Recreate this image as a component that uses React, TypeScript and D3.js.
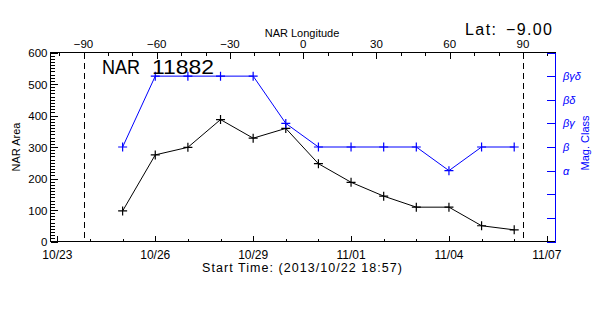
import { useEffect, useRef } from 'react';
import * as d3 from 'd3';

// daily samples of region NOAA 11882
const obsDates = [
  '2013-10-25', '2013-10-26', '2013-10-27', '2013-10-28', '2013-10-29', '2013-10-30', '2013-10-31',
  '2013-11-01', '2013-11-02', '2013-11-03', '2013-11-04', '2013-11-05', '2013-11-06',
];
const narArea = [97, 275, 299, 387, 328, 359, 247, 188, 144, 109, 109, 50, 37];
const magClass = ['β', 'βγδ', 'βγδ', 'βγδ', 'βγδ', 'βγ', 'β', 'β', 'β', 'β', 'α', 'β', 'β'];

const classLabels = ['α', 'β', 'βγ', 'βδ', 'βγδ'];
const areaTicks = [0, 100, 200, 300, 400, 500, 600];
const dateTicks = ['2013-10-23', '2013-10-26', '2013-10-29', '2013-11-01', '2013-11-04', '2013-11-07'];
const lonTicks = [-90, -60, -30, 0, 30, 60, 90];

const W = 600;
const H = 315;
const FONT = '"Liberation Sans", Arial, sans-serif';
const BLUE = '#0000ff';

const utc = (s: string) => new Date(s + 'T00:00:00Z');

export default function App() {
  const svgRef = useRef<SVGSVGElement>(null);

  useEffect(() => {
    if (!svgRef.current) return;
    const svg = d3.select(svgRef.current);
    svg.selectAll('*').remove();

    const left = 50.5, right = 555, top = 52.5, bottom = 241.5;

    const x = d3.scaleUtc()
      .domain([new Date(Date.UTC(2013, 9, 22, 18, 57)), new Date(Date.UTC(2013, 10, 7, 6, 0))])
      .range([left, right]);
    const lon = d3.scaleLinear().domain([-90, 90]).range([83.5, 523]);
    const y = d3.scaleLinear().domain([0, 600]).range([bottom, top]);
    const yc = d3.scaleLinear().domain([0, 8]).range([bottom, top]);

    const g = svg.append('g').attr('shape-rendering', 'crispEdges');

    // box
    g.append('rect')
      .attr('x', left).attr('y', top)
      .attr('width', right - left).attr('height', bottom - top)
      .attr('fill', 'none').attr('stroke', '#000');

    // left axis ticks, minor every 10
    d3.range(0, 601, 10).forEach(v => {
      const len = v % 100 === 0 ? 7 : 4;
      g.append('line')
        .attr('x1', left).attr('x2', left + len)
        .attr('y1', Math.round(y(v)) + 0.5).attr('y2', Math.round(y(v)) + 0.5)
        .attr('stroke', '#000');
    });
    areaTicks.forEach(v => {
      svg.append('text')
        .attr('x', left - 3).attr('y', y(v) + 4.5)
        .attr('text-anchor', 'end')
        .attr('font-family', FONT).attr('font-size', 11.5)
        .text(v);
    });

    // bottom time axis, minor every day
    d3.utcDay.range(utc('2013-10-23'), utc('2013-11-08')).forEach(d => {
      const major = dateTicks.includes(d3.utcFormat('%Y-%m-%d')(d));
      const xx = Math.round(x(d)) + 0.5;
      g.append('line')
        .attr('x1', xx).attr('x2', xx)
        .attr('y1', bottom).attr('y2', bottom - (major ? 6 : 3))
        .attr('stroke', '#000');
    });
    dateTicks.forEach(s => {
      svg.append('text')
        .attr('x', x(utc(s))).attr('y', 259)
        .attr('text-anchor', 'middle')
        .attr('font-family', FONT).attr('font-size', 12)
        .text(d3.utcFormat('%m/%d')(utc(s)));
    });
    svg.append('text')
      .attr('x', 302).attr('y', 272)
      .attr('text-anchor', 'middle')
      .attr('font-family', FONT).attr('font-size', 12.5)
      .attr('textLength', 200)
      .text('Start Time: (2013/10/22 18:57)');

    // top longitude axis
    d3.range(-100, 101, 10).forEach(v => {
      const xx = Math.round(lon(v)) + 0.5;
      g.append('line')
        .attr('x1', xx).attr('x2', xx)
        .attr('y1', top).attr('y2', top + (v % 30 === 0 ? 6 : 3))
        .attr('stroke', '#000');
    });
    lonTicks.forEach(v => {
      svg.append('text')
        .attr('x', lon(v)).attr('y', 48)
        .attr('text-anchor', 'middle')
        .attr('font-family', FONT).attr('font-size', 11.5)
        .text(v < 0 ? '\u2212' + Math.abs(v) : v);
    });
    svg.append('text')
      .attr('x', 302).attr('y', 37)
      .attr('text-anchor', 'middle')
      .attr('font-family', FONT).attr('font-size', 11)
      .text('NAR Longitude');

    // limb markers
    [-90, 90].forEach(v => {
      g.append('line')
        .attr('x1', Math.round(lon(v)) + 0.5).attr('x2', Math.round(lon(v)) + 0.5)
        .attr('y1', top).attr('y2', bottom)
        .attr('stroke', '#000').attr('stroke-dasharray', '6,4');
    });

    // right mag class axis
    g.append('line')
      .attr('x1', right + 0.5).attr('x2', right + 0.5)
      .attr('y1', top).attr('y2', bottom)
      .attr('stroke', BLUE);
    d3.range(0, 9).forEach(v => {
      const yy = Math.round(yc(v)) + 0.5;
      g.append('line')
        .attr('x1', right - 8).attr('x2', right + 1)
        .attr('y1', yy).attr('y2', yy)
        .attr('stroke', BLUE);
    });
    classLabels.forEach((c, i) => {
      svg.append('text')
        .attr('x', right + 8).attr('y', yc(i + 3) + 4)
        .attr('font-family', FONT).attr('font-size', 11)
        .attr('font-style', 'italic')
        .attr('fill', BLUE)
        .text(c);
    });
    svg.append('text')
      .attr('transform', `translate(589,${(top + bottom) / 2 - 4}) rotate(-90)`)
      .attr('text-anchor', 'middle')
      .attr('font-family', FONT).attr('font-size', 11)
      .attr('fill', BLUE)
      .text('Mag. Class');

    svg.append('text')
      .attr('transform', `translate(20,${(top + bottom) / 2}) rotate(-90)`)
      .attr('text-anchor', 'middle')
      .attr('font-family', FONT).attr('font-size', 11)
      .text('NAR Area');

    // series
    const plus = (sel: any, px: number, py: number, color: string) => {
      sel.append('path')
        .attr('d', `M${px - 4.5},${py}H${px + 4.5}M${px},${py - 4.5}V${py + 4.5}`)
        .attr('stroke', color).attr('stroke-width', 1.2).attr('fill', 'none');
    };

    const areaPts = obsDates.map((d, i) => [x(utc(d)), y(narArea[i])] as [number, number]);
    svg.append('path')
      .attr('d', d3.line()(areaPts))
      .attr('fill', 'none').attr('stroke', '#000').attr('stroke-width', 1);
    areaPts.forEach(p => plus(svg, p[0], p[1], '#000'));

    const classPts = obsDates.map((d, i) =>
      [x(utc(d)), yc(classLabels.indexOf(magClass[i]) + 3)] as [number, number]);
    svg.append('path')
      .attr('d', d3.line()(classPts))
      .attr('fill', 'none').attr('stroke', BLUE).attr('stroke-width', 1);
    classPts.forEach(p => plus(svg, p[0], p[1], BLUE));

    // titles
    svg.append('text')
      .attr('x', 102).attr('y', 74)
      .attr('font-family', FONT).attr('font-size', 21)
      .attr('textLength', 38).attr('lengthAdjust', 'spacingAndGlyphs')
      .text('NAR');
    svg.append('text')
      .attr('x', 152).attr('y', 74)
      .attr('font-family', FONT).attr('font-size', 21)
      .attr('textLength', 62).attr('lengthAdjust', 'spacingAndGlyphs')
      .text('11882');
    svg.append('text')
      .attr('x', 465).attr('y', 35)
      .attr('font-family', FONT).attr('font-size', 16)
      .attr('textLength', 31)
      .text('Lat:');
    svg.append('text')
      .attr('x', 506).attr('y', 35)
      .attr('font-family', FONT).attr('font-size', 16)
      .attr('textLength', 46)
      .text('\u22129.00');
  }, []);

  return (
    <svg
      ref={svgRef}
      width={W}
      height={H}
      style={{ position: 'fixed', left: 0, top: 0, background: '#fff' }}
    />
  );
}
